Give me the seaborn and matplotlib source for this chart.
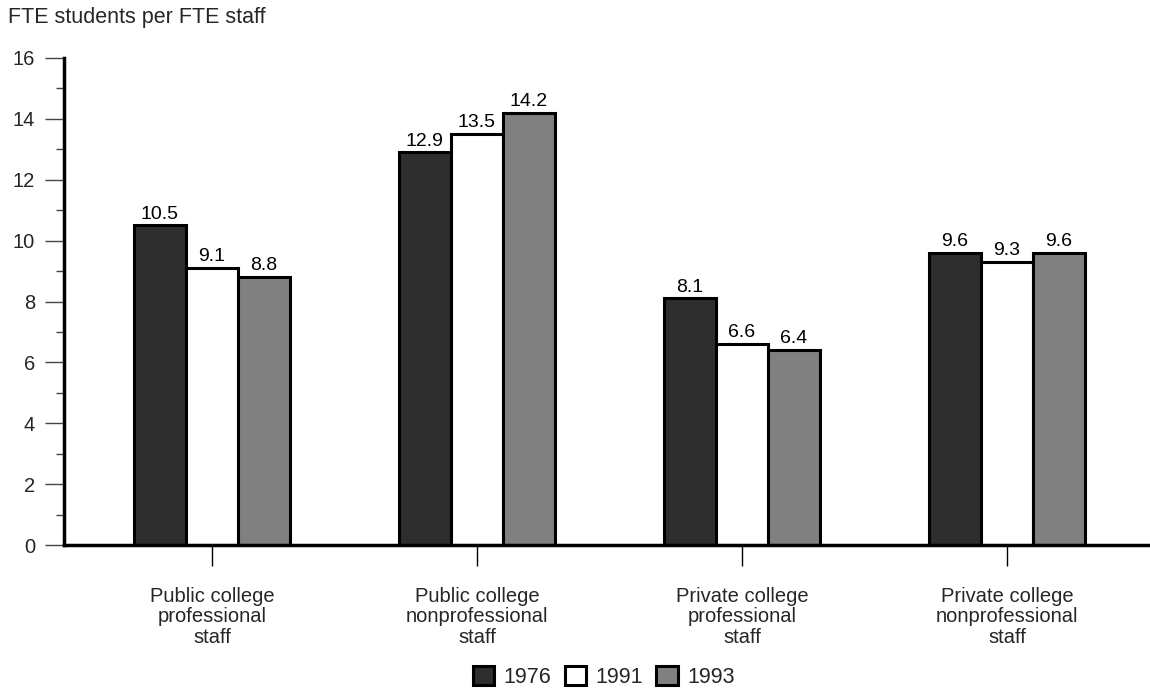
import matplotlib
matplotlib.use("Agg")
import matplotlib.pyplot as plt
import seaborn as sns
import pandas as pd
from matplotlib.ticker import MultipleLocator

categories = [
    "Public college\nprofessional\nstaff",
    "Public college\nnonprofessional\nstaff",
    "Private college\nprofessional\nstaff",
    "Private college\nnonprofessional\nstaff",
]
years = ["1976", "1991", "1993"]
values_1976 = [10.5, 12.9, 8.1, 9.6]
values_1991 = [9.1, 13.5, 6.6, 9.3]
values_1993 = [8.8, 14.2, 6.4, 9.6]
colors = ["#2e2e2e", "#ffffff", "#808080"]

rows = []
for yr, vals in zip(years, [values_1976, values_1991, values_1993]):
    for cat, v in zip(categories, vals):
        rows.append({"category": cat, "year": yr, "value": v})
df = pd.DataFrame(rows)

sns.set_theme(style="white")
plt.rcParams["font.family"] = ["Liberation Sans", "DejaVu Sans"]

fig = plt.figure(figsize=(11.5, 6.9), dpi=100)
ax = fig.add_axes([0.0557, 0.21, 0.9443, 0.706])

sns.barplot(data=df, x="category", y="value", hue="year", order=categories,
            hue_order=years, palette=colors, width=0.59, gap=0,
            edgecolor="black", linewidth=2.2, saturation=1, ax=ax, legend=True)

for cont in ax.containers:
    ax.bar_label(cont, fmt="%.1f", padding=2, fontsize=14, color="black")

ax.set_ylim(0, 16)
ax.set_xlim(-0.558, 3.54)
ax.yaxis.set_major_locator(MultipleLocator(2))
ax.yaxis.set_minor_locator(MultipleLocator(1))
ax.tick_params(axis="y", which="major", direction="out", length=14, width=1,
               color="#444444", labelsize=14.5, pad=7, left=True)
ax.tick_params(axis="y", which="minor", direction="out", length=6, width=1,
               color="#444444", left=True)
ax.tick_params(axis="x", which="major", direction="out", length=15, width=1,
               color="black", labelsize=14.5, pad=15, bottom=True)
for lbl in ax.get_xticklabels():
    lbl.set_linespacing(1.1)
ax.set_xlabel("")
ax.set_ylabel("")
for s in ["top", "right"]:
    ax.spines[s].set_visible(False)
for s in ["left", "bottom"]:
    ax.spines[s].set_visible(True)
    ax.spines[s].set_color("black")
    ax.spines[s].set_linewidth(2.5)
ax.set_facecolor("white")

handles, labels = ax.get_legend_handles_labels()
ax.get_legend().remove()
fig.legend(handles, labels, loc="center", bbox_to_anchor=(0.525, 0.019),
           ncol=3, frameon=False, fontsize=15.5, handlelength=1.0,
           handleheight=1.0, handletextpad=0.45, columnspacing=0.6,
           borderaxespad=0)

fig.text(0.007, 0.975, "FTE students per FTE staff", fontsize=15.5,
         ha="left", va="center")

fig.savefig("out.png", dpi=100, facecolor="white")
